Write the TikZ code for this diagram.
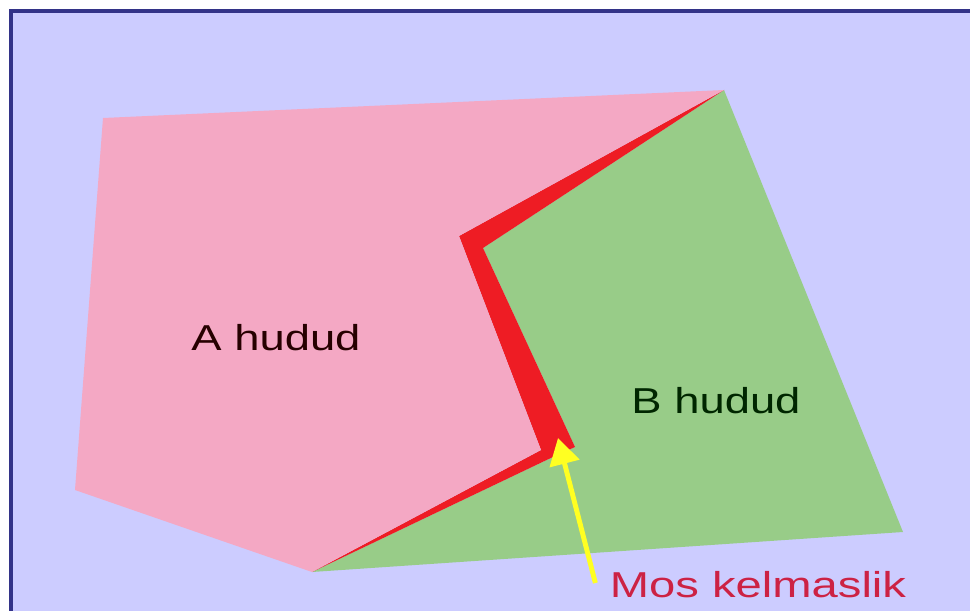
\documentclass[tikz,border=0pt]{standalone}
\usepackage{fontspec}
\setmainfont{Liberation Sans}
\usetikzlibrary{arrows.meta}

\definecolor{skyback}{HTML}{CCCCFF}
\definecolor{frameblue}{HTML}{333388}
\definecolor{zonepink}{HTML}{F4A8C4}
\definecolor{zonegreen}{HTML}{98CC88}
\definecolor{gapred}{HTML}{EE1C24}
\definecolor{arrowyellow}{HTML}{FFFF22}
\definecolor{notered}{HTML}{CC2244}

\begin{document}
\begin{tikzpicture}[
    x=0.02cm, y=-0.02cm,
    zonelabel/.style={
        font=\fontsize{20.5}{20.5}\selectfont,
        anchor=base,
        inner sep=0pt,
        xscale=1.26
    },
    gaplabel/.style={
        font=\fontsize{20.5}{20.5}\selectfont,
        text=notered,
        anchor=base,
        inner sep=0pt,
        xscale=1.31
    },
    gaparr/.style={-{Triangle[width=17pt,length=15pt]}, line width=2.8pt, draw=arrowyellow}
]

% Page and frame
\useasboundingbox (0,0) rectangle (970,611);
\fill[white] (0,0) rectangle (970,611);
\fill[skyback] (11,11) rectangle (970,611);
\draw[frameblue, line width=2.3pt] (970,11) -- (11,11) -- (11,611);

% Region B
\fill[zonegreen] (724,90) -- (903,532) -- (312,572) -- (555,456)
    -- (575,447) -- (483,248) -- cycle;

% Overlap strip
\fill[gapred] (724,90) -- (483,248) -- (575,447) -- (555,456)
    -- (312,572) -- (541,450) -- (459,236) -- cycle;

% Region A
\fill[zonepink] (103,118) -- (724,90) -- (459,236) -- (541,450)
    -- (312,572) -- (75,490) -- cycle;

% Labels
\node[zonelabel, text=black!85!red] (zoneA) at (276,350) {A hudud};
\node[zonelabel, text=black!85!green] (zoneB) at (716,413) {B hudud};
\node[gaplabel] (gap) at (758,597) {Mos kelmaslik};

% Pointer to the strip
\coordinate (gaptip) at (558,438);
\draw[gaparr] ([xshift=-8pt]gap.west |- 0,583) -- (gaptip);
\end{tikzpicture}
\end{document}
